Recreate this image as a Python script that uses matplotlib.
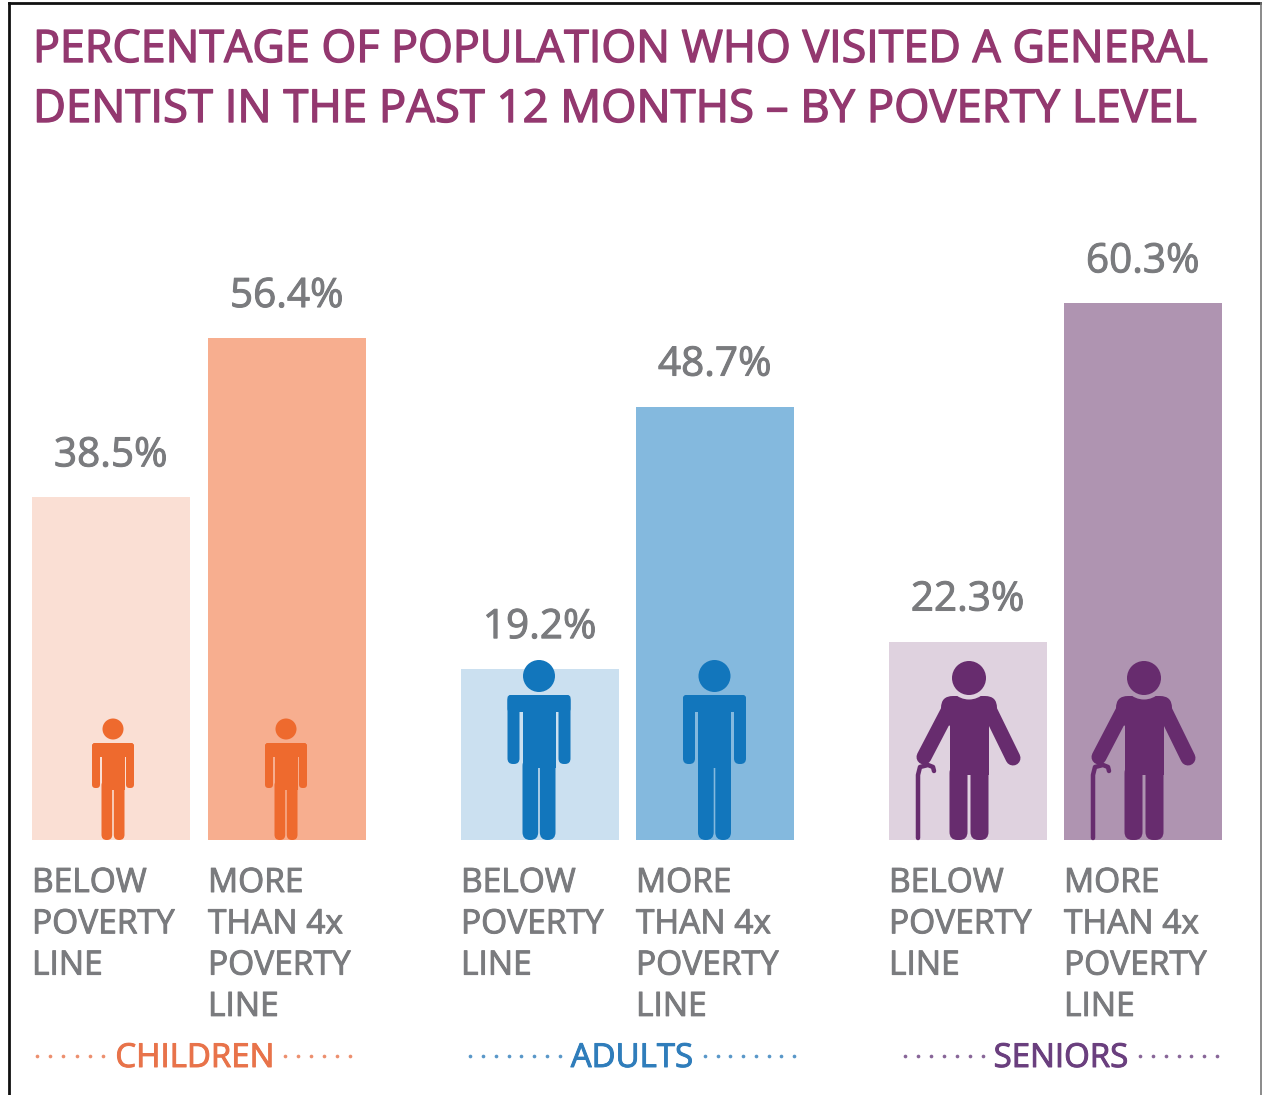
import matplotlib
matplotlib.use("Agg")
import matplotlib.pyplot as plt
import matplotlib.patheffects as pe
import numpy as np
from matplotlib.patches import Circle, FancyBboxPatch, Rectangle

W, H = 1262, 1095

# Survey values
groups = ["CHILDREN", "ADULTS", "SENIORS"]
below_poverty = [38.5, 19.2, 22.3]
above_poverty = [56.4, 48.7, 60.3]
below_label = ["BELOW", "POVERTY", "LINE"]
above_label = ["MORE", "THAN 4x", "POVERTY", "LINE"]
title_lines = ["PERCENTAGE OF POPULATION WHO VISITED A GENERAL",
               "DENTIST IN THE PAST 12 MONTHS – BY POVERTY LEVEL"]

# Styling per group
dark = ["#EE6A2E", "#1276BC", "#672C6E"]
light = ["#FADFD4", "#CBE0F0", "#DFD2DF"]
medium = ["#F7AE8F", "#84B9DE", "#AF94B1"]
caption = ["#E8734A", "#2F7DBB", "#6A3F7E"]
left_edges = [[32, 208], [461, 636], [889, 1064]]
bar_width = 157.5
px_per_pct = 8.9
baseline_px = 840
FONT = "Open Sans"
GREY = "#7A7B7E"
TITLE = "#93386F"
title_sizes = [44.8, 45.4]

fig = plt.figure(figsize=(W / 100, H / 100), dpi=100, facecolor="white")

# Bars live on a percent scale; the x axis is laid out in pixels
ax = fig.add_axes([0, 0, 1, 1])
ax.set_xlim(0, W)
ax.set_ylim(-(H - baseline_px) / px_per_pct, baseline_px / px_per_pct)
ax.axis("off")

# Overlay in pixel coordinates (origin top left) for text and pictograms
ov = fig.add_axes([0, 0, 1, 1])
ov.set_xlim(0, W)
ov.set_ylim(H, 0)
ov.axis("off")
ov.patch.set_alpha(0)


def fpx(px):
    return px * 0.72


def heavy(artist, colour, width=0.7):
    # Thicken the strokes a little, as a medium weight would
    artist.set_path_effects([pe.withStroke(linewidth=width, foreground=colour)])
    return artist


def rbox(x0, y0, x1, y1, r, color, z=5):
    ov.add_patch(FancyBboxPatch((x0 + r, y0 + r), x1 - x0 - 2 * r, y1 - y0 - 2 * r,
                                boxstyle=f"round,pad={r},rounding_size={r}",
                                fc=color, ec="none", zorder=z))


def standing(cx, head_y, head_r, half_w, top, arm_w, arm_bot, leg_hw, gap_top, yoke, color):
    # Simple standing figure: head, shoulders with arms, torso and two legs
    bottom = baseline_px
    ov.add_patch(Circle((cx, head_y), head_r, fc=color, ec="none", zorder=5))
    rbox(cx - half_w, top, cx + half_w, top + yoke + 4, 3, color)
    rbox(cx - half_w, top, cx - half_w + arm_w, arm_bot, arm_w / 2 - 0.5, color)
    rbox(cx + half_w - arm_w, top, cx + half_w, arm_bot, arm_w / 2 - 0.5, color)
    ov.add_patch(Rectangle((cx - leg_hw, top + 4), 2 * leg_hw, gap_top - top - 4, fc=color, ec="none", zorder=5))
    rbox(cx - leg_hw, gap_top - 10, cx - 0.8, bottom, leg_hw / 2 - 0.5, color)
    rbox(cx + 0.8, gap_top - 10, cx + leg_hw, bottom, leg_hw / 2 - 0.5, color)


def senior(cx, color, bg):
    # Figure with a walking cane in the left hand
    head_y, head_r = 678, 17
    bottom = baseline_px
    kw = dict(color=color, solid_capstyle="round", zorder=5)
    ov.plot([cx - 21, cx - 45], [711, 757], lw=fpx(15), **kw)
    ov.plot([cx + 21, cx + 44], [711, 758], lw=fpx(15), **kw)
    rbox(cx - 28, 696, cx + 28, 726, 12, color)
    ov.add_patch(Rectangle((cx - 19.5, 705), 39, 70, fc=color, ec="none", zorder=5))
    rbox(cx - 19.5, 765, cx - 1.5, bottom, 8, color)
    rbox(cx + 1.5, 765, cx + 19.5, bottom, 8, color)
    ov.add_patch(Circle((cx, head_y), head_r + 4.5, fc=bg, ec="none", zorder=6))
    ov.add_patch(Circle((cx, head_y), head_r, fc=color, ec="none", zorder=7))
    cane_x = cx - 51
    ov.plot([cane_x, cane_x, cane_x + 2, cane_x + 10, cane_x + 15, cane_x + 16],
            [bottom - 2, 775, 767, 765, 767, 771],
            lw=fpx(4.5), color=color, zorder=5, solid_capstyle="round", solid_joinstyle="round")


# Bars, value labels and category labels
for g in range(3):
    pairs = [(below_poverty[g], light[g], below_label), (above_poverty[g], medium[g], above_label)]
    for k, (value, colour, lines) in enumerate(pairs):
        x0 = left_edges[g][k]
        ax.bar(x0, value, width=bar_width, align="edge", color=colour, linewidth=0, zorder=2)
        heavy(ax.text(x0 + bar_width / 2, value + 31 / px_per_pct, f"{value}%", ha="center", va="baseline",
                      fontsize=fpx(40.5), color=GREY, family=FONT), GREY)
        for i, line in enumerate(lines):
            heavy(ov.text(x0, 892 + i * 41.3, line, ha="left", va="baseline",
                          fontsize=fpx(33.5), color=GREY, family=FONT), GREY)

# Pictograms
for k in range(2):
    standing([113, 286][k], 729, 10.5, 21, 743, 8, 788, 11.5, 790, 10, dark[0])
    standing([539, 714.5][k], 676, 16, 31.5, 695, 12, 764, 16.5, 768, 13, dark[1])
    senior([969, 1144][k], dark[2], [light[2], medium[2]][k])

# Group captions flanked by dotted rules
dot_runs = [[(37, 103, 6), (285, 350, 6)], [(470, 560, 8), (705, 794, 8)], [(905, 983, 7), (1140, 1217, 7)]]
caption_x = [195, 632, 1061]
for g, name in enumerate(groups):
    heavy(ov.text(caption_x[g], 1067, name, ha="center", va="baseline",
                  fontsize=fpx(33), color=caption[g], family=FONT), caption[g])
    for a, b, n in dot_runs[g]:
        ov.scatter(np.linspace(a, b, n), [1056] * n, s=7, color=caption[g], alpha=0.8, linewidths=0)

# Title
for i, line in enumerate(title_lines):
    heavy(ov.text(33, 62 + i * 60, line, ha="left", va="baseline", fontsize=fpx(title_sizes[i]),
                  color=TITLE, family=FONT), TITLE, 1.0)

# Surrounding frame
ov.plot([9, 9], [H, 2.5], color="#111111", lw=2.0)
ov.plot([9, W - 1.5], [2.5, 2.5], color="#111111", lw=2.0)
ov.plot([W - 1.5, W - 1.5], [2.5, H], color="#777777", lw=1.2)

fig.savefig("out.png", dpi=100)
